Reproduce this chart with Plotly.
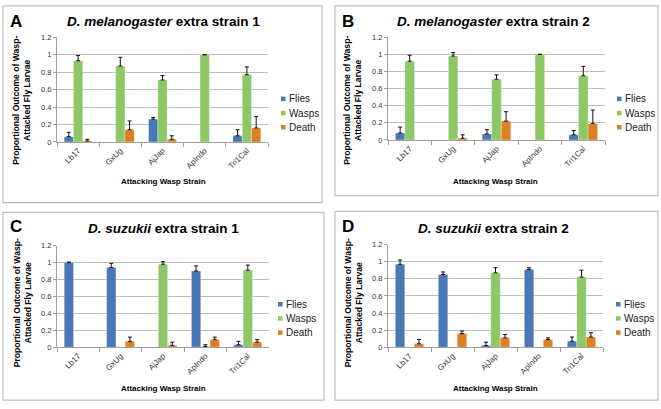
import plotly.graph_objects as go

W, H = 661, 409

categories = ["Lb17", "GxUg", "AjJap", "ApIndo", "Tri1Cal"]
series = ["Flies", "Wasps", "Death"]
colors = ["#4A78B5", "#8DC766", "#E07E22"]
y_ticks = [0, 0.2, 0.4, 0.6, 0.8, 1, 1.2]
y_ticktext = ["0", "0.2", "0.4", "0.6", "0.8", "1", "1.2"]

# None = no bar drawn for that strain (outcome not observed)
# Panel A: D. melanogaster extra strain 1
a_flies = [0.06, None, 0.26, None, 0.07]
a_flies_err = [0.05, None, 0.02, None, 0.07]
a_wasps = [0.93, 0.87, 0.71, 1.00, 0.77]
a_wasps_err = [0.06, 0.10, 0.05, 0.00, 0.09]
a_death = [0.01, 0.14, 0.03, None, 0.16]
a_death_err = [0.02, 0.10, 0.04, None, 0.13]

# Panel B: D. melanogaster extra strain 2
b_flies = [0.08, None, 0.07, None, 0.06]
b_flies_err = [0.07, None, 0.05, None, 0.05]
b_wasps = [0.92, 0.98, 0.71, 1.00, 0.75]
b_wasps_err = [0.07, 0.04, 0.05, 0.00, 0.11]
b_death = [None, 0.02, 0.22, None, 0.19]
b_death_err = [None, 0.04, 0.11, None, 0.16]

# Panel C: D. suzukii extra strain 1
c_flies = [1.00, 0.94, None, 0.90, 0.03]
c_flies_err = [0.005, 0.05, None, 0.06, 0.04]
c_wasps = [None, None, 0.98, 0.01, 0.91]
c_wasps_err = [None, None, 0.03, 0.02, 0.06]
c_death = [None, 0.07, 0.02, 0.09, 0.06]
c_death_err = [None, 0.05, 0.04, 0.03, 0.03]

# Panel D: D. suzukii extra strain 2
d_flies = [0.97, 0.85, 0.02, 0.91, 0.07]
d_flies_err = [0.05, 0.03, 0.04, 0.02, 0.05]
d_wasps = [None, None, 0.87, None, 0.82]
d_wasps_err = [None, None, 0.06, None, 0.08]
d_death = [0.04, 0.16, 0.11, 0.09, 0.12]
d_death_err = [0.05, 0.03, 0.04, 0.02, 0.05]

panel_letters = ["A", "B", "C", "D"]
panel_titles = [
    "<b><i>D. melanogaster</i> extra strain 1</b>",
    "<b><i>D. melanogaster</i> extra strain 2</b>",
    "<b><i>D. suzukii</i> extra strain 1</b>",
    "<b><i>D. suzukii</i> extra strain 2</b>",
]
x_title = "Attacking Wasp Strain"
y_title = "Proportional Outcome of Wasp-<br>Attacked Fly Larvae"

panel_data = [
    [(a_flies, a_flies_err), (a_wasps, a_wasps_err), (a_death, a_death_err)],
    [(b_flies, b_flies_err), (b_wasps, b_wasps_err), (b_death, b_death_err)],
    [(c_flies, c_flies_err), (c_wasps, c_wasps_err), (c_death, c_death_err)],
    [(d_flies, d_flies_err), (d_wasps, d_wasps_err), (d_death, d_death_err)],
]

# layout geometry in pixels
plot_px = [  # x0, x1, ytop, ybottom
    (57, 268, 34, 141),
    (388, 605, 34, 139),
    (57, 269, 247, 351),
    (388, 603, 246, 351),
]
box_px = [  # x0, y0, x1, y1
    (3, 2, 322, 203),
    (335, 2, 658, 196),
    (3, 213, 324, 405),
    (335, 212, 658, 405),
]
title_px = [(163, 18), (493, 18), (163, 230), (493, 230)]
letter_px = [(16, 18), (348, 18), (16, 227), (348, 227)]
ytitle_px = [(22, 99), (353, 99), (22, 306), (353, 306)]
xtitle_px = [(163, 182), (495, 182), (163, 393), (495, 393)]
legend_px = [(281, 97), (617, 97), (278, 307), (616, 307)]
legend_step = 14.5

FONT = "Liberation Sans, Arial, sans-serif"


def fx(px):
    return px / W


def fy(py):
    return 1 - py / H


fig = go.Figure()
layout = {}
annotations = []
shapes = []

for i in range(4):
    n = i + 1
    xa = "x" if n == 1 else f"x{n}"
    ya = "y" if n == 1 else f"y{n}"
    for s, (vals, errs) in enumerate(panel_data[i]):
        fig.add_trace(go.Bar(
            x=categories, y=vals, name=series[s], xaxis=xa, yaxis=ya,
            marker=dict(color=colors[s], line=dict(color="rgba(255,255,255,0.5)", width=0.6)),
            error_y=dict(type="data", symmetric=False, array=errs,
                         arrayminus=[0 if e is not None else None for e in errs],
                         color="#111111", thickness=1, width=2),
            showlegend=False,
        ))
    x0, x1, yt, yb = plot_px[i]
    layout["xaxis" if n == 1 else f"xaxis{n}"] = dict(
        domain=[fx(x0), fx(x1)], anchor=ya, type="category",
        tickangle=-45, tickson="boundaries", ticks="outside", ticklen=4,
        tickcolor="#A0A0A0", showline=True, linecolor="#A0A0A0", linewidth=1,
        showgrid=False, tickfont=dict(family=FONT, size=8, color="#333333"),
        fixedrange=True,
    )
    layout["yaxis" if n == 1 else f"yaxis{n}"] = dict(
        domain=[fy(yb), fy(yt)], anchor=xa, range=[0, 1.2],
        tickvals=y_ticks, ticktext=y_ticktext, ticks="outside", ticklen=3,
        tickcolor="#A0A0A0", showline=True, linecolor="#A0A0A0", linewidth=1,
        showgrid=True, gridcolor="#BDBDBD", gridwidth=1, zeroline=False,
        tickfont=dict(family=FONT, size=7.5, color="#333333"),
        fixedrange=True,
    )
    bx0, by0, bx1, by1 = box_px[i]
    shapes.append(dict(type="rect", xref="paper", yref="paper",
                       x0=fx(bx0), x1=fx(bx1), y0=fy(by1), y1=fy(by0),
                       line=dict(color="#BFBFBF", width=1.2), layer="below"))
    tx, ty = title_px[i]
    annotations.append(dict(text=panel_titles[i], x=fx(tx), y=fy(ty), xref="paper", yref="paper",
                            showarrow=False, xanchor="center", yanchor="middle",
                            font=dict(family=FONT, size=13.5, color="black")))
    lx, ly = letter_px[i]
    annotations.append(dict(text="<b>" + panel_letters[i] + "</b>", x=fx(lx), y=fy(ly),
                            xref="paper", yref="paper", showarrow=False,
                            xanchor="center", yanchor="middle",
                            font=dict(family=FONT, size=17, color="black")))
    yx, yy = ytitle_px[i]
    annotations.append(dict(text="<b>" + y_title + "</b>", x=fx(yx), y=fy(yy), xref="paper", yref="paper",
                            showarrow=False, textangle=-90, xanchor="center", yanchor="middle",
                            font=dict(family=FONT, size=8.6, color="black")))
    xx, xy = xtitle_px[i]
    annotations.append(dict(text="<b>" + x_title + "</b>", x=fx(xx), y=fy(xy), xref="paper", yref="paper",
                            showarrow=False, xanchor="center", yanchor="middle",
                            font=dict(family=FONT, size=8, color="black")))
    gx, gy = legend_px[i]
    for s in range(3):
        cy = gy + s * legend_step
        shapes.append(dict(type="rect", xref="paper", yref="paper",
                           x0=fx(gx), x1=fx(gx + 4.5), y0=fy(cy + 2.3), y1=fy(cy - 2.3),
                           fillcolor=colors[s], line=dict(width=0)))
        annotations.append(dict(text=series[s], x=fx(gx + 6), y=fy(cy), xref="paper", yref="paper",
                                showarrow=False, xanchor="left", yanchor="middle",
                                font=dict(family=FONT, size=10, color="#222222")))

fig.update_layout(
    width=W, height=H, margin=dict(l=0, r=0, t=0, b=0),
    paper_bgcolor="white", plot_bgcolor="white",
    barmode="group", bargap=0.34, bargroupgap=0.0,
    showlegend=False, annotations=annotations, shapes=shapes,
    **layout,
)

fig.write_html(
    "out.html",
    config={"displayModeBar": False},
    post_script="document.body.style.margin='0';document.body.style.overflow='hidden';",
)
